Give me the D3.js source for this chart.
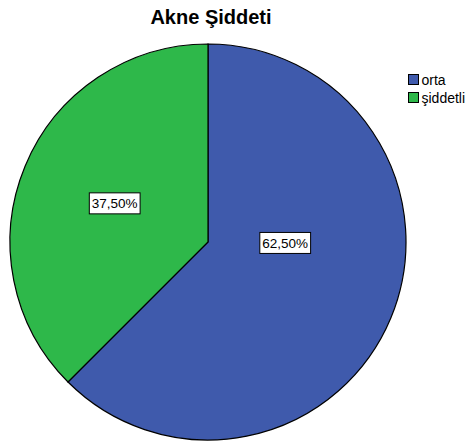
<!DOCTYPE html>
<html><head><meta charset="utf-8">
<script src="https://cdn.jsdelivr.net/npm/d3@7"></script>
<style>body{margin:0;background:#fff}svg{display:block}</style>
</head><body>
<script>
const categories = ["orta", "şiddetli"];
const values = [62.5, 37.5];
const labels = ["62,50%", "37,50%"];
const colors = ["#3f5aac", "#2eb84a"];

const W = 470, H = 446;
const cx = 208, cy = 242, R = 198;
const svg = d3.select("body").append("svg").attr("width", W).attr("height", H);

svg.append("text").attr("x", 211).attr("y", 24).attr("text-anchor", "middle")
  .attr("font-family", "Liberation Sans, Arial, sans-serif").attr("font-weight", "bold")
  .attr("font-size", 20).text("Akne Şiddeti");

const pie = d3.pie().sort(null).value(d => d)(values);
const arc = d3.arc().innerRadius(0).outerRadius(R);
const g = svg.append("g").attr("transform", `translate(${cx},${cy})`);
g.selectAll("path").data(pie).join("path")
  .attr("d", arc).attr("fill", (d, i) => colors[i])
  .attr("stroke", "#000").attr("stroke-width", 1.2);

// label placement (angle, radius fraction) per slice
const labPos = [{a: 90.7, k: 0.39}, {a: 292.5, k: 0.51}];
pie.forEach((d, i) => {
  const a = labPos[i].a * Math.PI / 180, r = labPos[i].k * R;
  const x = r * Math.sin(a), y = -r * Math.cos(a);
  const t = g.append("text").attr("x", x).attr("y", y + 5).attr("text-anchor", "middle")
    .attr("font-family", "Liberation Sans, Arial, sans-serif").attr("font-size", 13.5).text(labels[i]);
  const b = t.node().getBBox();
  g.insert("rect", () => t.node()).attr("x", b.x - 2.5).attr("y", y - 10.5)
    .attr("width", b.width + 5).attr("height", 21).attr("fill", "#fff").attr("stroke", "#000").attr("stroke-width", 1);
});

const leg = svg.append("g").attr("transform", "translate(408.5,74.5)");
categories.forEach((c, i) => {
  const gi = leg.append("g").attr("transform", `translate(0,${i * 18})`);
  gi.append("rect").attr("width", 10).attr("height", 10).attr("fill", colors[i]).attr("stroke", "#000").attr("stroke-width", 1);
  gi.append("text").attr("x", 13).attr("y", 10).attr("font-family", "Liberation Sans, Arial, sans-serif")
    .attr("font-size", 14).text(c);
});
</script>
</body></html>
